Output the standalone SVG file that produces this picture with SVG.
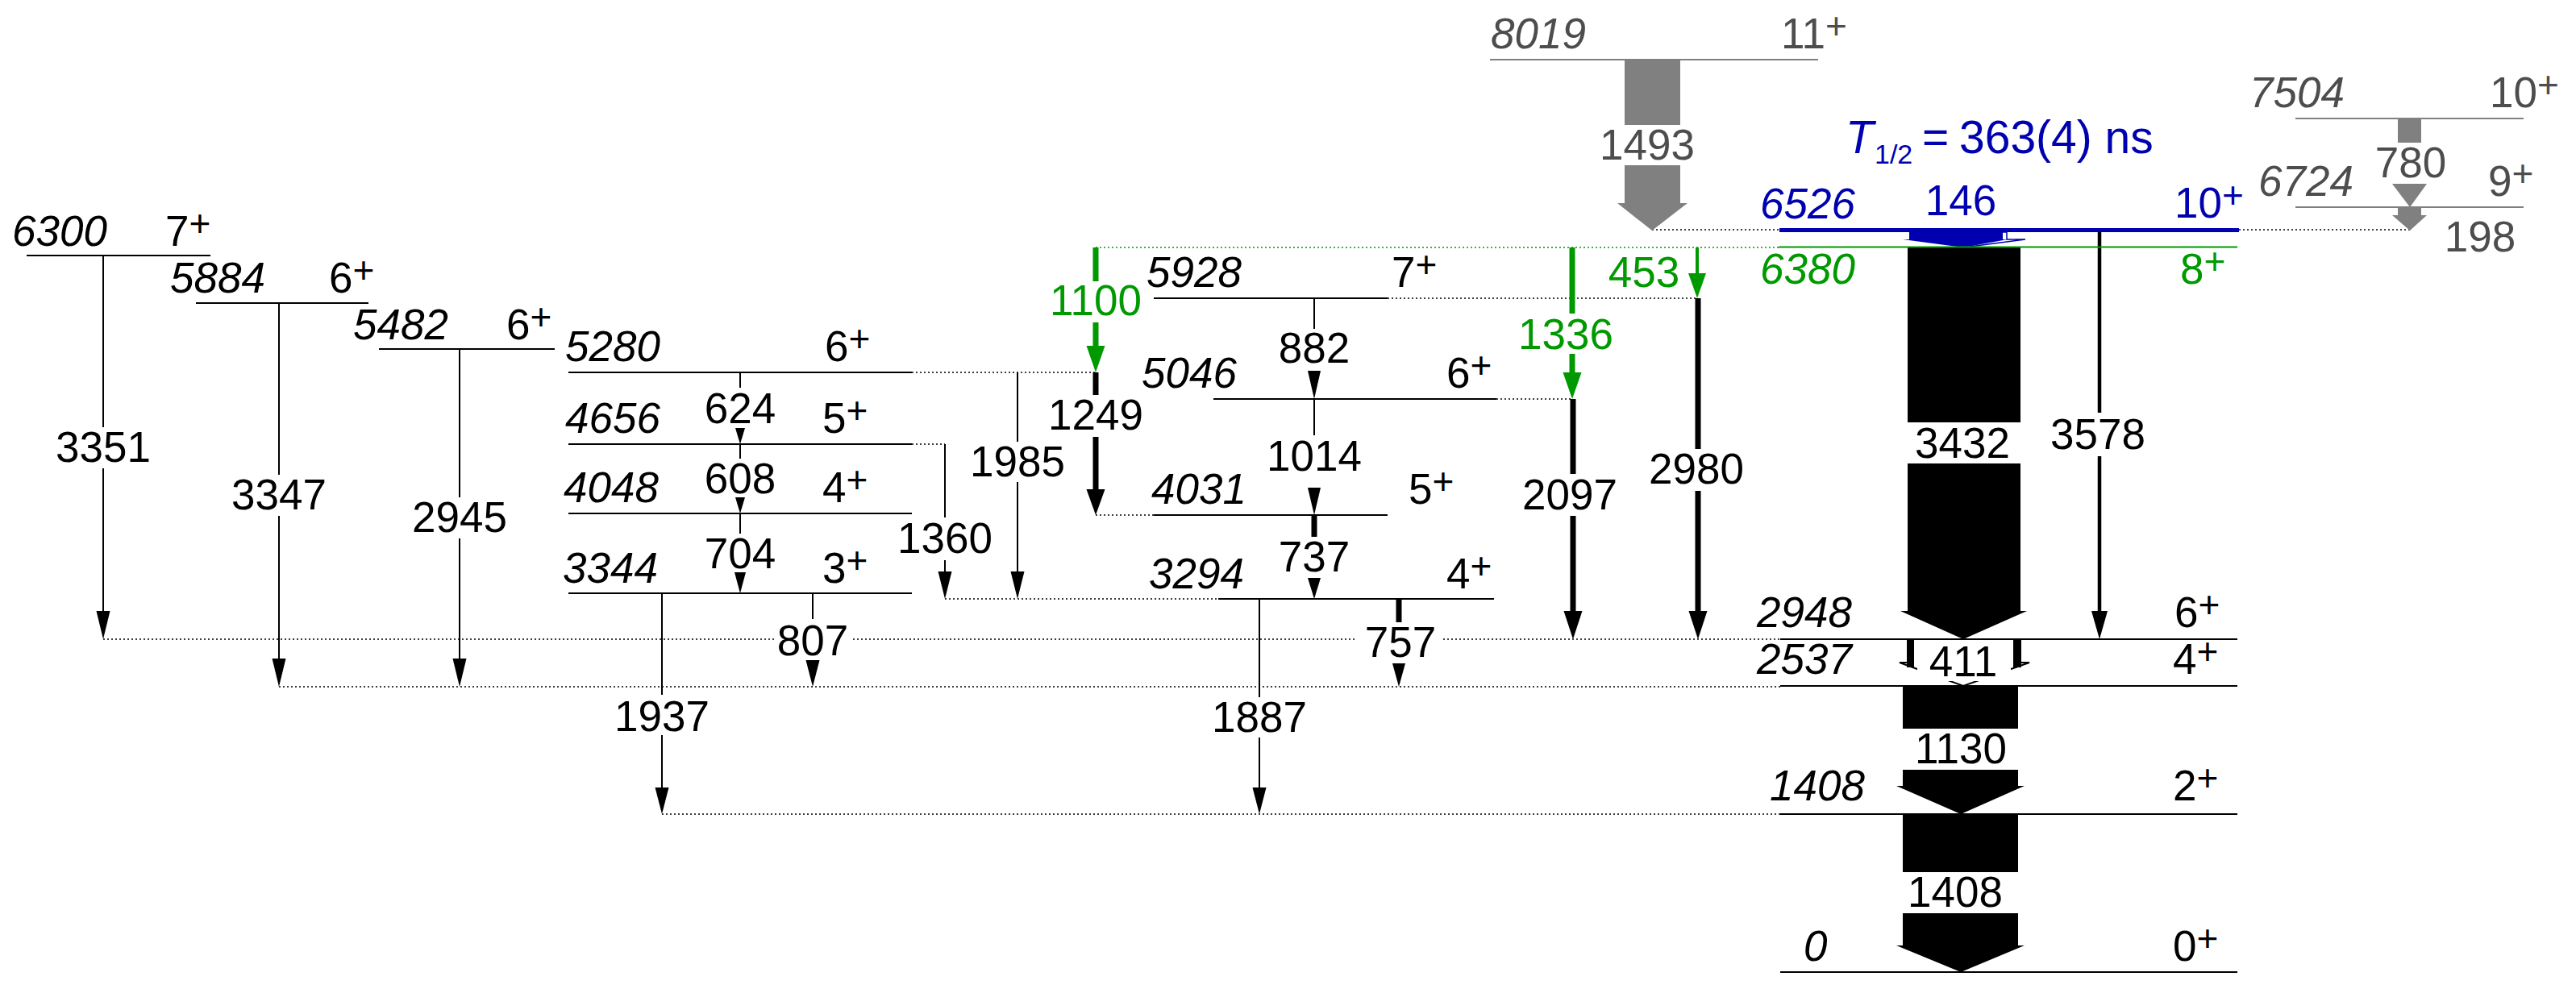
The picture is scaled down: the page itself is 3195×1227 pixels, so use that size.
<svg xmlns="http://www.w3.org/2000/svg" width="3195" height="1227" viewBox="0 0 3195 1227">
<style>
text{font-family:"Liberation Sans",Arial,sans-serif;font-size:53px;fill:#000}
.e{font-style:italic}
.m{text-anchor:middle}
.sup{font-size:46px}
.gr{fill:#4d4d4d}
.bl{fill:#0000b0}
.gn{fill:#009900}
.lv{stroke:#000;stroke-width:2}
.lvg{stroke:#808080;stroke-width:2}
.dot{stroke:#000;stroke-width:1.5;stroke-dasharray:2 3}
.gdot{stroke:#009900;stroke-width:1.5;stroke-dasharray:2 3}
.t{stroke:#000;stroke-width:2}
.tk{stroke:#000;stroke-width:7}
.tg{stroke:#009900;stroke-width:7}
.h{fill:#000}
.hg{fill:#009900}
.w{fill:#000}
.wg{fill:#808080}
</style>
<rect width="3195" height="1227" fill="#fff"/>
<g id="connectors">
<!-- dotted level extensions -->
<line class="dot" x1="128" y1="793" x2="962" y2="793"/>
<line class="dot" x1="1058" y1="793" x2="1680" y2="793"/>
<line class="dot" x1="1790" y1="793" x2="2208" y2="793"/>
<line class="dot" x1="346" y1="852" x2="2208" y2="852"/>
<line class="dot" x1="821" y1="1010" x2="2208" y2="1010"/>
<line class="dot" x1="1131" y1="462" x2="1359" y2="462"/>
<line class="dot" x1="1131" y1="551" x2="1172" y2="551"/>
<line class="dot" x1="1172" y1="743" x2="1511" y2="743"/>
<line class="dot" x1="1359" y1="639" x2="1431" y2="639"/>
<line class="dot" x1="1721" y1="370" x2="2106" y2="370"/>
<line class="dot" x1="1856" y1="495" x2="1951" y2="495"/>
<line class="gdot" x1="1359" y1="307" x2="2206" y2="307"/>
<line class="dot" x1="2049" y1="285" x2="2207" y2="285"/>
<line class="dot" x1="2777" y1="285" x2="2989" y2="285"/>

<!-- 3351 -->
<line class="t" x1="128" y1="317" x2="128" y2="530"/><line class="t" x1="128" y1="581" x2="128" y2="758"/>
<polygon class="h" points="119.5,758 136.5,758 128,793"/><text class="m" x="128" y="573">3351</text>
<!-- 3347 -->
<line class="t" x1="346" y1="376" x2="346" y2="589"/><line class="t" x1="346" y1="640" x2="346" y2="817"/>
<polygon class="h" points="337.5,817 354.5,817 346,852"/><text class="m" x="346" y="632">3347</text>
<!-- 2945 -->
<line class="t" x1="570" y1="433" x2="570" y2="617"/><line class="t" x1="570" y1="668" x2="570" y2="817"/>
<polygon class="h" points="561.5,817 578.5,817 570,852"/><text class="m" x="570" y="660">2945</text>
<!-- 624 -->
<line class="t" x1="918" y1="462" x2="918" y2="481"/>
<polygon class="h" points="912,531 924,531 918,551"/><text class="m" x="918" y="525">624</text>
<!-- 608 -->
<line class="t" x1="918" y1="551" x2="918" y2="569"/>
<polygon class="h" points="912,617 924,617 918,637"/><text class="m" x="918" y="612">608</text>
<!-- 704 -->
<line class="t" x1="918" y1="637" x2="918" y2="662"/>
<polygon class="h" points="911,710 925,710 918,736"/><text class="m" x="918" y="705">704</text>
<!-- 807 -->
<line class="t" x1="1008" y1="736" x2="1008" y2="768"/>
<polygon class="h" points="999.5,819 1016.5,819 1008,852"/><text class="m" x="1008" y="813">807</text>
<!-- 1937 -->
<line class="t" x1="821" y1="736" x2="821" y2="862"/><line class="t" x1="821" y1="912" x2="821" y2="977"/>
<polygon class="h" points="812.5,977 829.5,977 821,1010"/><text class="m" x="821" y="907">1937</text>
<!-- 1360 -->
<line class="t" x1="1172" y1="551" x2="1172" y2="642"/><line class="t" x1="1172" y1="695" x2="1172" y2="709"/>
<polygon class="h" points="1163.5,709 1180.5,709 1172,743"/><text class="m" x="1172" y="686">1360</text>
<!-- 1985 -->
<line class="t" x1="1262" y1="462" x2="1262" y2="548"/><line class="t" x1="1262" y1="598" x2="1262" y2="709"/>
<polygon class="h" points="1253.5,709 1270.5,709 1262,743"/><text class="m" x="1262" y="591">1985</text>
<!-- 1100 -->
<line class="tg" x1="1359" y1="307" x2="1359" y2="349"/><line class="tg" x1="1359" y1="400" x2="1359" y2="429"/>
<polygon class="hg" points="1347.5,429 1370.5,429 1359,462"/><text class="m gn" x="1359" y="391">1100</text>
<!-- 1249 -->
<line class="tk" x1="1359" y1="462" x2="1359" y2="490"/><line class="tk" x1="1359" y1="542" x2="1359" y2="607"/>
<polygon class="h" points="1347.5,607 1370.5,607 1359,639"/><text class="m" x="1359" y="533">1249</text>
<!-- 882 -->
<line class="t" x1="1630" y1="370" x2="1630" y2="408"/>
<polygon class="h" points="1622,460 1638,460 1630,495"/><text class="m" x="1630" y="450">882</text>
<!-- 1014 -->
<line class="t" x1="1630" y1="495" x2="1630" y2="540"/>
<polygon class="h" points="1622,605 1638,605 1630,639"/><text class="m" x="1630" y="584">1014</text>
<!-- 737 -->
<line class="tk" x1="1630" y1="639" x2="1630" y2="666"/>
<polygon class="h" points="1622,717 1638,717 1630,743"/><text class="m" x="1630" y="709">737</text>
<!-- 757 -->
<line class="tk" x1="1735" y1="743" x2="1735" y2="772"/>
<polygon class="h" points="1727,823 1743,823 1735,852"/><text class="m" x="1737" y="815">757</text>
<!-- 1887 -->
<line class="t" x1="1562" y1="743" x2="1562" y2="865"/><line class="t" x1="1562" y1="915" x2="1562" y2="977"/>
<polygon class="h" points="1553.5,977 1570.5,977 1562,1010"/><text class="m" x="1562" y="908">1887</text>
<!-- 1336 -->
<line class="tg" x1="1950" y1="307" x2="1950" y2="389"/><line class="tg" x1="1950" y1="439" x2="1950" y2="462"/>
<polygon class="hg" points="1938.5,462 1961.5,462 1950,495"/><text class="m gn" x="1942" y="433">1336</text>
<!-- 2097 -->
<line class="tk" x1="1951" y1="495" x2="1951" y2="588"/><line class="tk" x1="1951" y1="640" x2="1951" y2="758"/>
<polygon class="h" points="1939.5,758 1962.5,758 1951,793"/><text class="m" x="1947" y="632">2097</text>
<!-- 453 -->
<line stroke="#009900" stroke-width="4" x1="2105" y1="307" x2="2105" y2="339"/>
<polygon class="hg" points="2094,339 2116,339 2105,370"/><text class="m gn" x="2039" y="356">453</text>
<!-- 2980 -->
<line class="tk" x1="2106" y1="370" x2="2106" y2="557"/><line class="tk" x1="2106" y1="609" x2="2106" y2="758"/>
<polygon class="h" points="2094.5,758 2117.5,758 2106,793"/><text class="m" x="2104" y="600">2980</text>
<!-- 3578 -->
<line stroke="#000" stroke-width="4.5" x1="2604" y1="285" x2="2604" y2="512"/><line stroke="#000" stroke-width="4.5" x1="2604" y1="566" x2="2604" y2="758"/>
<polygon class="h" points="2594,758 2614,758 2604,793"/><text class="m" x="2602" y="557">3578</text>
<!-- 1493 -->
<rect class="wg" x="2015" y="75" width="69" height="80"/><rect class="wg" x="2015" y="205" width="69" height="47"/>
<polygon class="wg" points="2006,252 2093,252 2049,286"/><text class="m gr" x="2043" y="198">1493</text>
<!-- 780 -->
<rect class="wg" x="2974" y="148" width="29" height="29"/>
<polygon class="wg" points="2967,228 3010,228 2989,257"/><text class="m gr" x="2990" y="220">780</text>
<!-- 198 -->
<rect class="wg" x="2974" y="258" width="29" height="9"/>
<polygon class="wg" points="2967,267 3010,267 2989,286"/><text class="m gr" x="3076" y="312">198</text>
<!-- 146 -->
<rect fill="#0000b0" x="2368" y="287" width="116" height="10"/>
<polygon fill="#0000b0" points="2360,297 2490,297 2435,307"/>
<polyline fill="none" stroke="#0000b0" stroke-width="1.5" points="2484,288 2489,288 2489,297 2512,297 2435,307"/>
<text class="m bl" x="2432" y="267">146</text>
<!-- 3432 -->
<rect class="w" x="2366" y="306" width="140" height="218"/>
<polygon class="w" points="2366,575 2506,575 2506,758 2514,758 2435,793 2357,758 2366,758"/>
<text class="m" x="2434" y="568">3432</text>
<!-- 411 -->
<polygon fill="#fff" stroke="#000" stroke-width="2" points="2366,793 2506,793 2506,822 2517,822 2435,851 2356,822 2366,822"/>
<rect class="w" x="2365" y="793" width="9" height="35"/><rect class="w" x="2497" y="793" width="10" height="35"/>
<rect fill="#fff" x="2378" y="797" width="116" height="48"/>
<text class="m" x="2435" y="839">411</text>
<!-- 1130 -->
<rect class="w" x="2360" y="851" width="143" height="53"/>
<polygon class="w" points="2360,955 2503,955 2503,975 2511,975 2432,1010 2352,975 2360,975"/>
<text class="m" x="2432" y="947">1130</text>
<!-- 1408 -->
<rect class="w" x="2360" y="1010" width="143" height="72"/>
<polygon class="w" points="2360,1133 2503,1133 2503,1173 2511,1173 2432,1206 2352,1173 2360,1173"/>
<text class="m" x="2425" y="1125">1408</text>
</g>

<g id="lvl8019"><line class="lvg" x1="1848" y1="74" x2="2255" y2="74"/><text class="e gr" x="1849" y="60">8019</text><text class="gr" x="2209" y="60">11<tspan class="sup" dy="-12">+</tspan></text></g>
<g id="lvl7504"><line class="lvg" x1="2847" y1="147" x2="3130" y2="147"/><text class="e gr" x="2790" y="133">7504</text><text class="gr" x="3088" y="133">10<tspan class="sup" dy="-12">+</tspan></text></g>
<g id="lvl6724"><line class="lvg" x1="2847" y1="257" x2="3130" y2="257"/><text class="e gr" x="2801" y="243">6724</text><text class="gr" x="3086" y="243">9<tspan class="sup" dy="-12">+</tspan></text></g>
<g id="lvl6526"><line stroke="#0000b0" stroke-width="5" x1="2207" y1="285.5" x2="2777" y2="285.5"/><text class="e bl" x="2183" y="271">6526</text><text class="bl" x="2697" y="270">10<tspan class="sup" dy="-12">+</tspan></text>
<text class="bl e" x="2289" y="190" style="font-size:57px">T</text><text class="bl" x="2325" y="203" style="font-size:34px">1/2</text><text class="bl" x="2384" y="190" style="font-size:57px">=<tspan x="2430">363(4) ns</tspan></text></g>
<g id="lvl6380"><line stroke="#009900" stroke-width="2" x1="2206" y1="306.5" x2="2775" y2="306.5"/><text class="e gn" x="2183" y="352">6380</text><text class="gn" x="2704" y="352">8<tspan class="sup" dy="-12">+</tspan></text></g>
<g id="lvl6300"><line class="lv" x1="33" y1="317" x2="261" y2="317"/><text class="e" x="15" y="305">6300</text><text x="205" y="305">7<tspan class="sup" dy="-12">+</tspan></text></g>
<g id="lvl5884"><line class="lv" x1="243" y1="376" x2="457" y2="376"/><text class="e" x="211" y="363">5884</text><text x="408" y="363">6<tspan class="sup" dy="-12">+</tspan></text></g>
<g id="lvl5482"><line class="lv" x1="470" y1="433" x2="688" y2="433"/><text class="e" x="438" y="421">5482</text><text x="628" y="421">6<tspan class="sup" dy="-12">+</tspan></text></g>
<g id="lvl5280"><line class="lv" x1="705" y1="462" x2="1131" y2="462"/><text class="e" x="701" y="448">5280</text><text x="1023" y="448">6<tspan class="sup" dy="-12">+</tspan></text></g>
<g id="lvl4656"><line class="lv" x1="705" y1="551" x2="1131" y2="551"/><text class="e" x="701" y="537">4656</text><text x="1020" y="537">5<tspan class="sup" dy="-12">+</tspan></text></g>
<g id="lvl4048"><line class="lv" x1="705" y1="637" x2="1131" y2="637"/><text class="e" x="699" y="623">4048</text><text x="1020" y="623">4<tspan class="sup" dy="-12">+</tspan></text></g>
<g id="lvl3344"><line class="lv" x1="705" y1="736" x2="1131" y2="736"/><text class="e" x="698" y="723">3344</text><text x="1020" y="723">3<tspan class="sup" dy="-12">+</tspan></text></g>
<g id="lvl5928"><line class="lv" x1="1431" y1="370" x2="1721" y2="370"/><text class="e" x="1422" y="356">5928</text><text x="1726" y="356">7<tspan class="sup" dy="-12">+</tspan></text></g>
<g id="lvl5046"><line class="lv" x1="1505" y1="495" x2="1856" y2="495"/><text class="e" x="1416" y="481">5046</text><text x="1794" y="481">6<tspan class="sup" dy="-12">+</tspan></text></g>
<g id="lvl4031"><line class="lv" x1="1431" y1="639" x2="1721" y2="639"/><text class="e" x="1428" y="625">4031</text><text x="1747" y="625">5<tspan class="sup" dy="-12">+</tspan></text></g>
<g id="lvl3294"><line class="lv" x1="1511" y1="743" x2="1853" y2="743"/><text class="e" x="1425" y="730">3294</text><text x="1794" y="730">4<tspan class="sup" dy="-12">+</tspan></text></g>
<g id="lvl2948"><line class="lv" x1="2208" y1="793" x2="2775" y2="793"/><text class="e" x="2179" y="778">2948</text><text x="2697" y="778">6<tspan class="sup" dy="-12">+</tspan></text></g>
<g id="lvl2537"><line class="lv" x1="2208" y1="851" x2="2775" y2="851"/><text class="e" x="2179" y="836">2537</text><text x="2695" y="836">4<tspan class="sup" dy="-12">+</tspan></text></g>
<g id="lvl1408"><line class="lv" x1="2208" y1="1010" x2="2775" y2="1010"/><text class="e" x="2195" y="993">1408</text><text x="2695" y="993">2<tspan class="sup" dy="-12">+</tspan></text></g>
<g id="lvl0"><line class="lv" x1="2208" y1="1206" x2="2775" y2="1206"/><text class="e" x="2237" y="1192">0</text><text x="2695" y="1192">0<tspan class="sup" dy="-12">+</tspan></text></g>
</svg>
